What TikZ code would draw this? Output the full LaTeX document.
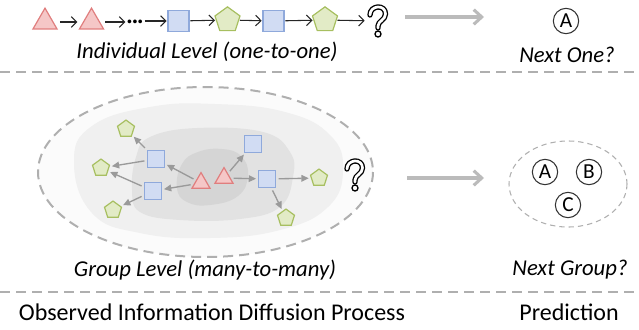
\documentclass[tikz,border=0pt]{standalone}
\usepackage{fontspec}
\setmainfont{Carlito}
\usetikzlibrary{shapes.geometric,arrows.meta}

\definecolor{trifill}{HTML}{F5C7C7}
\definecolor{tridraw}{HTML}{E07E7E}
\definecolor{sqfill}{HTML}{D1DCF3}
\definecolor{sqdraw}{HTML}{8FA9DB}
\definecolor{pentfill}{HTML}{E2EBC6}
\definecolor{pentdraw}{HTML}{A7BF60}
\definecolor{sepgray}{HTML}{AFAFAF}
\definecolor{bigarrow}{HTML}{BBBBBB}
\definecolor{edgegray}{HTML}{9A9A9A}
\definecolor{zoneA}{HTML}{FBFBFB}
\definecolor{zoneB}{HTML}{F0F0F0}
\definecolor{zoneC}{HTML}{E2E2E2}
\definecolor{zoneD}{HTML}{D5D5D5}

\tikzset{
  qmark/.pic={
    \draw[line width=4pt,line cap=round,line join=round]
      (-7,-6) .. controls (-7,-16) and (8.5,-17) .. (8.5,-7)
      .. controls (8.5,-1) and (1,0) .. (1,5) -- (1,7);
    \draw[white,line width=2pt,line cap=round,line join=round]
      (-7,-6) .. controls (-7,-16) and (8.5,-17) .. (8.5,-7)
      .. controls (8.5,-1) and (1,0) .. (1,5) -- (1,7);
    \draw[line width=1pt,fill=white] (1,13) circle (3);
  }
}

\begin{document}
\begin{tikzpicture}[x=0.75pt,y=-0.75pt,
  every node/.style={font=\fontsize{18}{20}\selectfont},
  tri/.style={regular polygon,regular polygon sides=3,draw=tridraw,fill=trifill,
    line width=0.9pt,inner sep=0pt,outer sep=1pt,minimum size=#1},
  tri/.default=20.8pt,
  sq/.style={rectangle,draw=sqdraw,fill=sqfill,line width=0.9pt,inner sep=0pt,
    outer sep=1pt,minimum size=#1},
  sq/.default=15.75pt,
  pent/.style={regular polygon,regular polygon sides=5,draw=pentdraw,fill=pentfill,
    line width=0.9pt,inner sep=0pt,outer sep=1pt,minimum size=#1},
  pent/.default=19.7pt,
  qbox/.style={inner sep=0pt,minimum width=18pt,minimum height=24pt},
  letter/.style={circle,draw=black!80,line width=0.8pt,inner sep=0pt,minimum size=19pt,
    font=\fontsize{16}{18}\selectfont},
  flow/.style={draw=black!85,line width=0.8pt,-{Straight Barb[length=4pt,width=8pt]}},
  spread/.style={draw=edgegray,line width=1pt,shorten <=1.5pt,shorten >=1pt,
    -{Triangle[length=5.5pt,width=5pt]}},
  leap/.style={draw=bigarrow,line width=2.3pt,-{Straight Barb[length=6pt,width=11pt]}},
  sep/.style={draw=sepgray,line width=1.5pt,dash pattern=on 7.5pt off 4.5pt},
  lbl/.style={font=\fontsize{17}{19}\selectfont\itshape}
]
\useasboundingbox (0,0) rectangle (639,329);

% individual level
\node[tri] (t1) at (45,22) {};
\node[tri] (t2) at (91.5,22) {};
\node[inner sep=1pt,font=\fontsize{15}{15}\selectfont\bfseries] (dts) at (135,24)
  {\textperiodcentered\textperiodcentered\textperiodcentered};
\node[sq] (s1) at (178.5,21) {};
\node[pent] (p1) at (227.5,20) {};
\node[sq] (s2) at (273.5,21) {};
\node[pent] (p2) at (325,20) {};
\node[qbox] (q1) at (377,21) {};
\pic at (q1) {qmark};
\draw[flow,shorten <=4pt,shorten >=3.5pt] (t1) -- (t2);
\draw[flow,shorten <=3pt] (t2) -- (dts.west |- t2);
\draw[flow] (dts.east |- s1) -- (s1);
\draw[flow] (s1) -- (p1);
\draw[flow] (p1) -- (s2);
\draw[flow] (s2) -- (p2);
\draw[flow] (p2) -- (q1);
\node[lbl] (lblind) at (207,52) {Individual Level (one-to-one)};

\coordinate (la) at (405,17);
\coordinate (lb) at (484,17);
\draw[leap] (la) -- (lb);
\node[letter] (na) at (566,21) {A};
\node[lbl] (lblnext) at (567,55) {Next One?};

\coordinate (sa) at (0,72);
\coordinate (sb) at (639,72);
\draw[sep] (sa) -- (sb);

% group level
\draw[sepgray,line width=1.5pt,dash pattern=on 7.5pt off 4.5pt,fill=zoneA]
  (205.5,172) ellipse [x radius=167.5,y radius=85];
\fill[zoneB] plot[smooth cycle,tension=0.75] coordinates
  {(74,162) (92,126) (150,107) (215,104) (285,112) (330,135) (343,170)
   (328,207) (280,230) (210,238) (140,233) (92,213)};
\fill[zoneC] plot[smooth cycle,tension=0.7] coordinates
  {(132,190) (136,157) (150,137) (197,128) (263,132) (290,152) (293,177)
   (280,207) (240,219) (180,220) (140,212)};
\fill[zoneD] plot[smooth cycle,tension=0.75] coordinates
  {(177,188) (182,164) (198,152) (222,149) (241,156) (248,175) (238,196)
   (210,205) (187,202)};

\node[pent=13.4pt] (gp1) at (126,129) {};
\node[pent=13.4pt] (gp2) at (101,168) {};
\node[pent=13.4pt] (gp3) at (113,210) {};
\node[sq=12.4pt] (gs1) at (156,159) {};
\node[sq=12.4pt] (gs2) at (153,191) {};
\node[tri=15.6pt] (gt1) at (201,183) {};
\node[tri=15.6pt] (gt2) at (224,178) {};
\node[sq=12.4pt] (gs3) at (253,144) {};
\node[sq=12.4pt] (gs4) at (267,179) {};
\node[pent=13.4pt] (gp4) at (319,178) {};
\node[pent=13.4pt] (gp5) at (286,218) {};
\node[qbox] (gq) at (354,175) {};
\pic at (gq) {qmark};
\draw[spread] (gs1) -- (gp1);
\draw[spread] (gs1) -- (gp2);
\draw[spread] (gs2) -- (gp2);
\draw[spread] (gs2) -- (gp3);
\draw[spread] (gt1) -- (gs1);
\draw[spread] (gt1) -- (gs2);
\draw[spread] (gt2) -- (gs3);
\draw[spread] (gt2) -- (gs4);
\draw[spread] (gs4) -- (gp4);
\draw[spread] (gs4) -- (gp5);
\node[lbl] (lblgroup) at (205,270) {Group Level (many-to-many)};

\coordinate (lc) at (407,178);
\coordinate (ld) at (484,178);
\draw[leap] (lc) -- (ld);
\draw[sepgray,line width=0.8pt,dash pattern=on 4pt off 3pt]
  (568,184) ellipse [x radius=59,y radius=43];
\node[letter] (ga) at (545,172) {A};
\node[letter] (gb) at (589,172) {B};
\node[letter] (gc) at (568,205) {C};
\node[lbl] (lblnextg) at (570,270) {Next Group?};

\coordinate (sc) at (0,292);
\coordinate (sd) at (639,292);
\draw[sep] (sc) -- (sd);

\node (lblobs) at (212,312) {Observed Information Diffusion Process};
\node (lblpred) at (569,312) {Prediction};
\end{tikzpicture}
\end{document}
